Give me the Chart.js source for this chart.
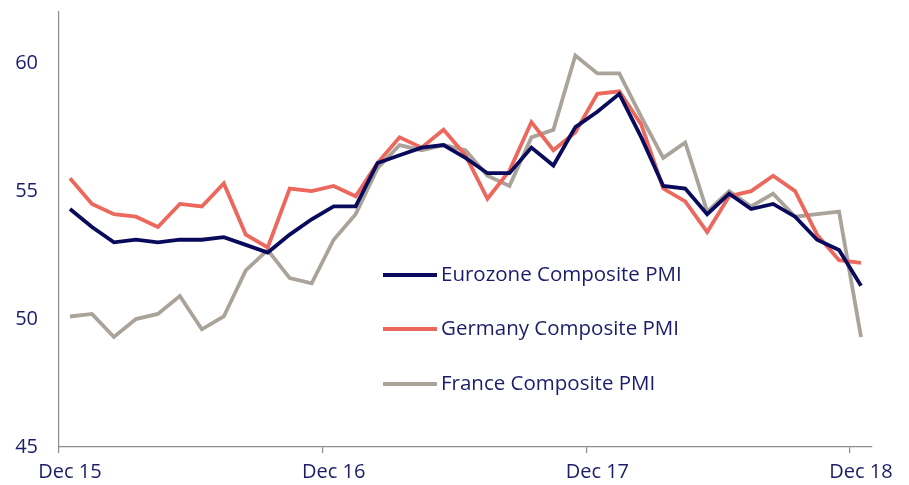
<!DOCTYPE html>
<html lang="en">
<head>
  <meta charset="UTF-8">
  <title>Composite PMI</title>
  <script src="https://cdn.jsdelivr.net/npm/chart.js"></script>
  <style>
    html, body { margin: 0; padding: 0; background: #fff; }
    #wrap { width: 909px; height: 485px; }
  </style>
</head>
<body>
<div id="wrap"><canvas id="pmi-chart"></canvas></div>

<script>
  // Monthly data, Dec 15 .. Dec 18
  const tickLabels = ["Dec 15", "Dec 16", "Dec 17", "Dec 18"];
  const seriesNames = ["Eurozone Composite PMI", "Germany Composite PMI", "France Composite PMI"];
  const eurozone = [54.3, 53.6, 53.0, 53.1, 53.0, 53.1, 53.1, 53.2, 52.9, 52.6, 53.3, 53.9,
                    54.4, 54.4, 56.1, 56.4, 56.7, 56.8, 56.3, 55.7, 55.7, 56.7, 56.0, 57.5,
                    58.1, 58.8, 57.1, 55.2, 55.1, 54.1, 54.9, 54.3, 54.5, 54.0, 53.1, 52.7, 51.3];
  const germany  = [55.5, 54.5, 54.1, 54.0, 53.6, 54.5, 54.4, 55.3, 53.3, 52.8, 55.1, 55.0,
                    55.2, 54.8, 56.1, 57.1, 56.7, 57.4, 56.4, 54.7, 55.8, 57.7, 56.6, 57.3,
                    58.8, 58.9, 57.6, 55.1, 54.6, 53.4, 54.8, 55.0, 55.6, 55.0, 53.3, 52.3, 52.2];
  const france   = [50.1, 50.2, 49.3, 50.0, 50.2, 50.9, 49.6, 50.1, 51.9, 52.7, 51.6, 51.4,
                    53.1, 54.1, 55.9, 56.8, 56.6, 56.8, 56.6, 55.6, 55.2, 57.1, 57.4, 60.3,
                    59.6, 59.6, 57.9, 56.3, 56.9, 54.2, 55.0, 54.4, 54.9, 54.0, 54.1, 54.2, 49.3];

  const textColor = "#1c1c6b";
  const axisColor = "#8c8c8c";
  const lineColors = ["#0a0a5c", "#ec675c", "#aaa39a"];

  // points sit in the middle of each month
  const toPoints = (arr) => arr.map((v, i) => ({ x: i + 0.5, y: v }));

  // legend drawn inside the plot, like the original
  const insideLegend = {
    id: "insideLegend",
    afterDatasetsDraw(chart) {
      const ctx = chart.ctx;
      const x0 = 383, x1 = 437;
      const rows = [275, 329, 384];
      ctx.save();
      ctx.font = "20.5px 'Open Sans'";
      ctx.textBaseline = "middle";
      ctx.textAlign = "left";
      chart.data.datasets.forEach((ds, i) => {
        ctx.strokeStyle = ds.borderColor;
        ctx.lineWidth = 4;
        ctx.beginPath();
        ctx.moveTo(x0, rows[i]);
        ctx.lineTo(x1, rows[i]);
        ctx.stroke();
        ctx.fillStyle = textColor;
        ctx.fillText(ds.label, x1 + 4, rows[i]);
      });
      ctx.restore();
    }
  };

  new Chart(document.getElementById("pmi-chart"), {
    type: "line",
    data: {
      datasets: [
        { label: seriesNames[0], data: toPoints(eurozone), borderColor: lineColors[0] },
        { label: seriesNames[1], data: toPoints(germany), borderColor: lineColors[1] },
        { label: seriesNames[2], data: toPoints(france), borderColor: lineColors[2] },
      ].map(d => Object.assign(d, { borderWidth: 3.8, pointRadius: 0, tension: 0, fill: false })),
    },
    options: {
      responsive: true,
      maintainAspectRatio: false,
      animation: false,
      devicePixelRatio: 1,
      layout: { padding: { top: 12, right: 37, left: 0, bottom: 0 } },
      plugins: { legend: { display: false }, tooltip: { enabled: false } },
      scales: {
        x: {
          type: "linear",
          min: 0,
          max: 37,
          afterFit: (s) => { s.height = 38; },
          afterBuildTicks: (s) => {
            s.ticks = tickLabels.map((t, i) => ({ value: i * 12 }));
          },
          ticks: {
            callback: (v) => tickLabels[Math.round(v / 12)],
            color: textColor,
            font: { family: "'Open Sans'", size: 20 },
            labelOffset: 11,
            padding: 7,
            maxRotation: 0,
            autoSkip: false,
          },
          grid: { display: true, drawOnChartArea: false, drawTicks: true, tickLength: 6, color: axisColor, lineWidth: 1.2 },
          border: { display: true, color: axisColor, width: 1.2 },
        },
        y: {
          min: 45,
          max: 62,
          afterFit: (s) => { s.width = 59; s.paddingTop = 0; s.paddingBottom = 0; },
          ticks: {
            stepSize: 5,
            includeBounds: false,
            color: textColor,
            font: { family: "'Open Sans'", size: 20 },
            padding: 21,
          },
          grid: { display: false, drawTicks: false },
          border: { display: true, color: axisColor, width: 1.2 },
        },
      },
    },
    plugins: [insideLegend],
  });
</script>
</body>
</html>
